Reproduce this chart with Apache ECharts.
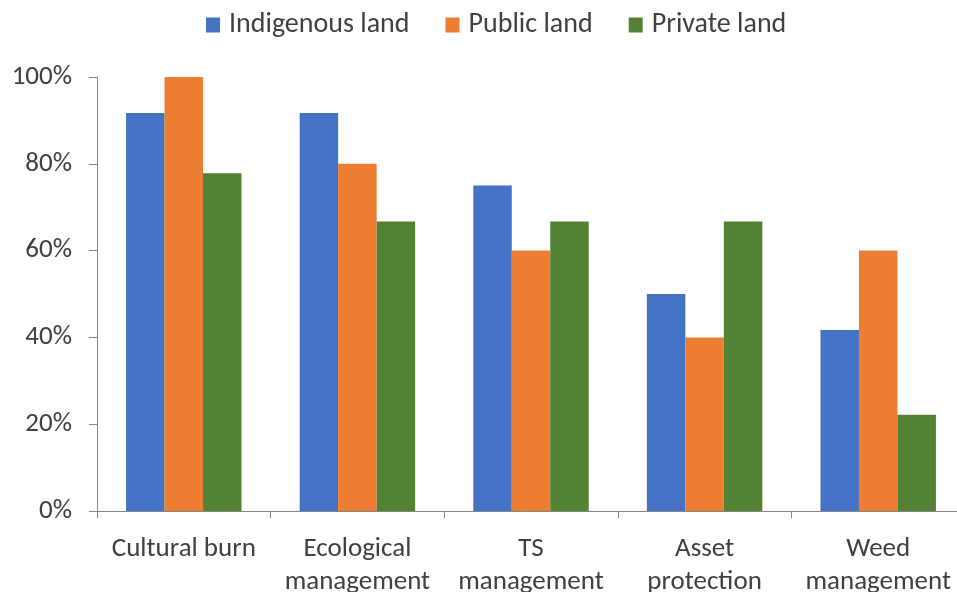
<!DOCTYPE html>
<html>
<head>
<meta charset="utf-8">
<script src="https://cdn.jsdelivr.net/npm/echarts@6/dist/echarts.min.js"></script>
<style>
  html, body { margin: 0; padding: 0; background: #fff; }
  #chart { width: 957px; height: 592px; }
</style>
</head>
<body>
<div id="chart"></div>
<script>
// Share of respondents using fire for each purpose, by land tenure (%)
const categories = ['Cultural burn', 'Ecological\nmanagement', 'TS\nmanagement', 'Asset\nprotection', 'Weed\nmanagement'];
const indigenousLand = [91.7, 91.7, 75.0, 50.0, 41.7];
const publicLand = [100, 80, 60, 40, 60];
const privateLand = [77.8, 66.7, 66.7, 66.7, 22.2];
const seriesNames = ['Indigenous land', 'Public land', 'Private land'];
const yTicks = { min: 0, max: 100, interval: 20 };

const font = 'Carlito, "Open Sans", "Noto Sans", sans-serif';
const textColor = '#404040';
const axisColor = '#868686';
const colors = ['#4472C4', '#ED7D31', '#548235'];

const chart = echarts.init(document.getElementById('chart'), null, { renderer: 'canvas' });
chart.setOption({
  animation: false,
  color: colors,
  textStyle: { fontFamily: font },
  legend: {
    top: 6,
    left: 201,
    itemWidth: 14,
    itemHeight: 15,
    itemGap: 36,
    icon: 'rect',
    textStyle: { fontSize: 28, color: textColor, fontFamily: font, padding: [0, 0, 0, 4] },
    data: seriesNames
  },
  // the plot runs slightly past the right and bottom edges of the canvas
  grid: { left: 97, width: 868, top: 77, height: 434, outerBoundsMode: 'none', containLabel: false },
  xAxis: {
    type: 'category',
    data: categories,
    axisLine: { lineStyle: { color: axisColor, width: 1 } },
    axisTick: { show: true, length: 7, lineStyle: { color: axisColor } },
    axisLabel: { fontSize: 27, color: textColor, margin: 22, lineHeight: 33, interval: 0, fontFamily: font }
  },
  yAxis: {
    type: 'value',
    min: yTicks.min,
    max: yTicks.max,
    interval: yTicks.interval,
    axisLine: { show: true, lineStyle: { color: axisColor, width: 1 } },
    axisTick: { show: true, length: 8, lineStyle: { color: axisColor } },
    splitLine: { show: false },
    axisLabel: { fontSize: 27, color: textColor, margin: 25, formatter: '{value}%', fontFamily: font }
  },
  series: [
    { name: seriesNames[0], type: 'bar', data: indigenousLand, barGap: '0%', barCategoryGap: '33.5%' },
    { name: seriesNames[1], type: 'bar', data: publicLand, barGap: '0%', barCategoryGap: '33.5%' },
    { name: seriesNames[2], type: 'bar', data: privateLand, barGap: '0%', barCategoryGap: '33.5%' }
  ]
});
</script>
</body>
</html>
